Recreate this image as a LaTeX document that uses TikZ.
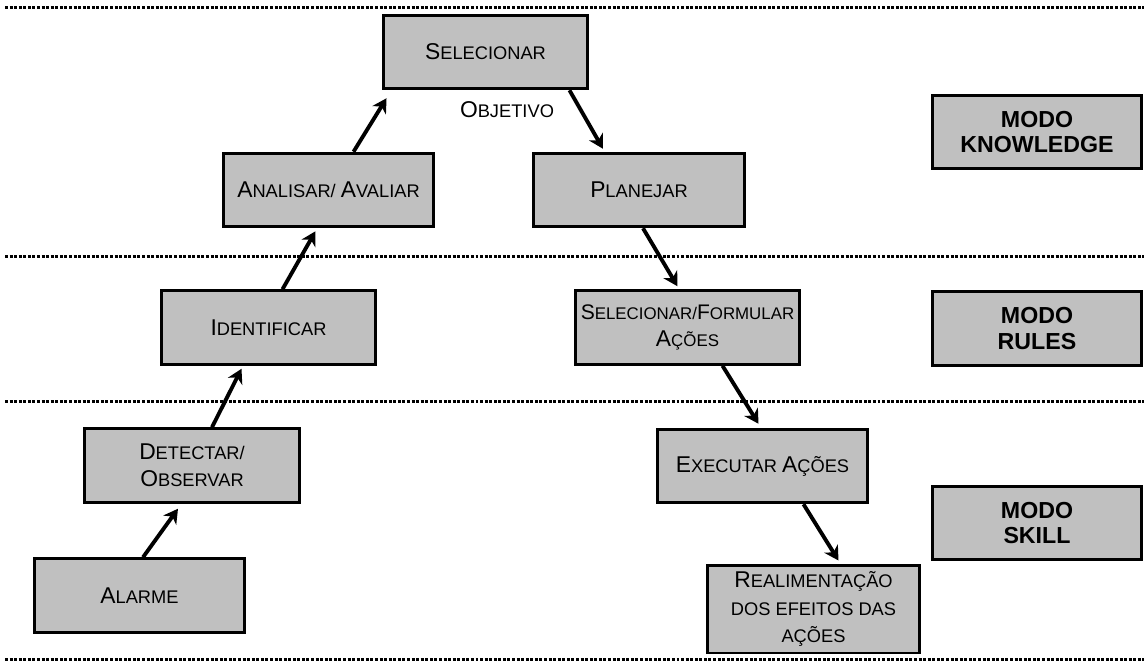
\documentclass[tikz,border=0pt]{standalone}
\usepackage{fontspec}
\setmainfont{Liberation Sans}
\usetikzlibrary{arrows.meta,calc}
\definecolor{cinza}{RGB}{192,192,192}
\newcommand\ini[1]{{\fontsize{13}{15.5}\selectfont #1}}

\begin{document}
\begin{tikzpicture}[x = 0.02cm, y = -0.02cm, line width = 1.7pt,
		etapa/.style = {draw, fill = cinza, inner sep = 0pt, align = center,
			minimum height = 1.47cm, font = \fontsize{10.4}{15.5}\selectfont},
		modo/.style = {etapa, minimum width = 4.2cm,
			font = \bfseries\fontsize{13.2}{14.6}\selectfont},
		seta/.style = {line width = 2.2pt, -{Stealth[length = 8pt, width = 9pt, inset = 2.5pt]}},
		divisa/.style = {dash pattern = on 1.7pt off 0.9pt}]
		\useasboundingbox (0,0) rectangle (1144,664);
		% linhas dos modos
		\foreach \y in {7,256,401,659}
			\draw [divisa] (5,\y) -- (1144,\y);
		% etapas
		\node [etapa, minimum width = 4.1cm] (sel) at (485.5,52) {\ini{S}ELECIONAR};
		\node [font = \fontsize{10.4}{15.5}\selectfont] (obj) at (507,110) {\ini{O}BJETIVO};
		\node [etapa, minimum width = 4.22cm] (ana) at (328.5,190) {\ini{A}NALISAR/ \ini{A}VALIAR};
		\node [etapa, minimum width = 4.24cm] (plan) at (639,190) {\ini{P}LANEJAR};
		\node [etapa, minimum width = 4.3cm] (ident) at (268.5,327.5) {\ini{I}DENTIFICAR};
		\node [etapa, minimum width = 4.5cm, font = \fontsize{9.6}{15.5}\selectfont] (form) at (687.5,327.5)
			{{\fontsize{12}{15.5}\selectfont S}ELECIONAR/{\fontsize{12}{15.5}\selectfont F}ORMULAR\\\ini{A}ÇÕES};
		\node [etapa, minimum width = 4.32cm] (detec) at (192,465.5) {\ini{D}ETECTAR/\\\ini{O}BSERVAR};
		\node [etapa, minimum width = 4.22cm] (exec) at (762.5,466) {\ini{E}XECUTAR \ini{A}ÇÕES};
		\node [etapa, minimum width = 4.22cm] (alarme) at (139.5,595.5) {\ini{A}LARME};
		\node [etapa, minimum width = 4.26cm, minimum height = 1.76cm] (realim) at (813.5,609)
			{\ini{R}EALIMENTAÇÃO\\DOS EFEITOS DAS\\AÇÕES};
		% modos
		\node [modo] (know) at (1037,132) {MODO\\KNOWLEDGE};
		\node [modo] (rules) at (1037,328.5) {MODO\\RULES};
		\node [modo] (skill) at (1037,523) {MODO\\SKILL};
		% setas
		\draw [seta] ($(alarme.north)+(3.5,0)$) -- ($(detec.south)+(-14,5)$);
		\draw [seta] ($(detec.north)+(20,0)$) -- ($(ident.south)+(-27,3)$);
		\draw [seta] ($(ident.north)+(14,0)$) -- ($(ana.south)+(-13,3)$);
		\draw [seta] ($(ana.north)+(25,0)$) -- ($(sel.south west)+(5,8)$);
		\draw [seta] ($(sel.south east)+(-20,0)$) -- ($(plan.north)+(-36,-3)$);
		\draw [seta] ($(plan.south)+(4,0)$) -- ($(form.north)+(-10,-3)$);
		\draw [seta] ($(form.south)+(35,0)$) -- ($(exec.north)+(-4,-4)$);
		\draw [seta] ($(exec.south)+(41,0)$) -- ($(realim.north)+(25,-3)$);
	\end{tikzpicture}
\end{document}
